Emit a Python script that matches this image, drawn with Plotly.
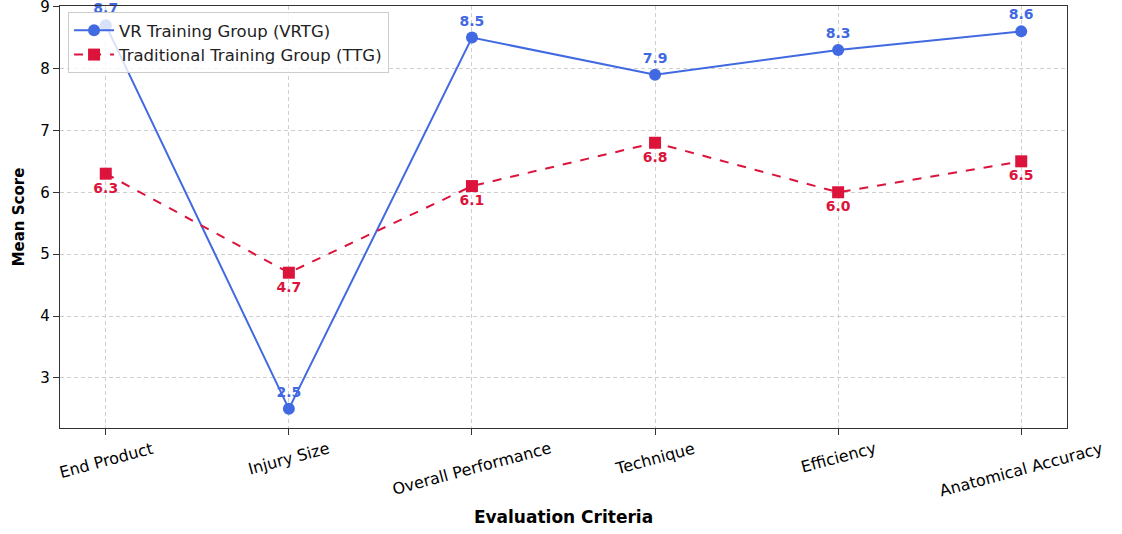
import plotly.graph_objects as go

categories = ["End Product", "Injury Size", "Overall Performance", "Technique", "Efficiency", "Anatomical Accuracy"]
vrtg = [8.7, 2.5, 8.5, 7.9, 8.3, 8.6]
ttg = [6.3, 4.7, 6.1, 6.8, 6.0, 6.5]
y_ticks = [3, 4, 5, 6, 7, 8, 9]

blue = "#4169E1"
red = "#DC143C"
font = "DejaVu Sans"
xs = list(range(len(categories)))

fig = go.Figure()
fig.add_trace(go.Scatter(
    x=xs, y=vrtg, mode="lines+markers+text",
    name="VR Training Group (VRTG)",
    line=dict(color=blue, width=2),
    marker=dict(symbol="circle", size=12, color=blue),
    text=[f"{v:.1f}" for v in vrtg], textposition="top center",
    textfont=dict(family=font, size=14, color=blue, weight="bold"),
    cliponaxis=False,
))
fig.add_trace(go.Scatter(
    x=xs, y=ttg, mode="lines+markers+text",
    name="Traditional Training Group (TTG)",
    line=dict(color=red, width=2, dash="dash"),
    marker=dict(symbol="square", size=12, color=red),
    text=[f"{v:.1f}" for v in ttg], textposition="bottom center",
    textfont=dict(family=font, size=14, color=red, weight="bold"),
    cliponaxis=False,
))

annotations = []
for i, c in enumerate(categories):
    annotations.append(dict(
        x=i, y=0, xref="x", yref="paper", text=c, showarrow=False,
        textangle=-15, xanchor="center", yanchor="top", yshift=-8,
        font=dict(family=font, size=16, color="black"),
    ))

fig.update_layout(
    width=1122, height=534,
    margin=dict(l=60, r=55, t=6, b=106),
    plot_bgcolor="white", paper_bgcolor="white",
    font=dict(family=font, size=14, color="black"),
    showlegend=True,
    legend=dict(x=0.008, y=0.986, xanchor="left", yanchor="top",
                bgcolor="rgba(255,255,255,0.8)", bordercolor="#cccccc", borderwidth=1,
                font=dict(family=font, size=16.5, color="#222"), itemwidth=40,
                tracegroupgap=0),
    annotations=annotations,
)
fig.update_xaxes(
    tickmode="array", tickvals=xs, showticklabels=False,
    range=[-0.25, 5.25], automargin=False,
    showline=True, linecolor="#333", linewidth=1.3, mirror=True,
    ticks="outside", ticklen=6, tickcolor="#333",
    showgrid=True, gridcolor="#cfcfcf", griddash="4px,3px", gridwidth=1,
    zeroline=False,
    title=dict(text="<b>Evaluation Criteria</b>", font=dict(family=font, size=17), standoff=76),
)
fig.update_yaxes(
    range=[2.19, 9.01], tickvals=y_ticks, automargin=False,
    ticklabeloverflow="allow",
    showline=True, linecolor="#333", linewidth=1.3, mirror=True,
    ticks="outside", ticklen=6, tickcolor="#333",
    showgrid=True, gridcolor="#cfcfcf", griddash="4px,3px", gridwidth=1,
    zeroline=False,
    tickfont=dict(family=font, size=15),
    title=dict(text="<b>Mean Score</b>", font=dict(family=font, size=15), standoff=12),
)

fig.write_html("out.html", config={"displayModeBar": False},
               post_script="document.body.style.margin='0';")
